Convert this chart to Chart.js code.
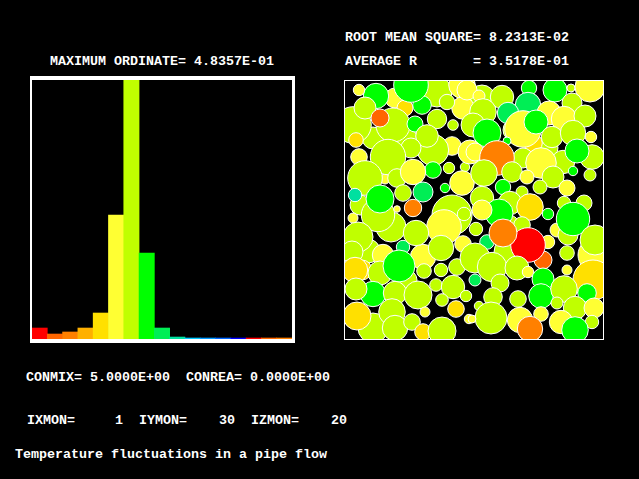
<!DOCTYPE html>
<html><head><meta charset="utf-8">
<script src="https://cdn.jsdelivr.net/npm/chart.js@4"></script>
<style>
html,body{margin:0;padding:0;background:#000;width:639px;height:479px;overflow:hidden}
.t{position:absolute;color:#fff;font:bold 13.33px/16px "Liberation Mono",monospace;white-space:pre;letter-spacing:0}
.box{position:absolute;box-sizing:content-box;border-style:solid;border-color:#fff}
canvas{display:block}
</style></head><body>
<div class="box" style="left:30px;top:76px;width:260px;height:259px;border-width:4px 3px 4px 2px"><canvas id="hist" width="260" height="259"></canvas></div>
<div class="box" style="left:344px;top:80px;width:258px;height:258px;border-width:1px"><canvas id="cells" width="258" height="258"></canvas></div>
<script>
const captions = [
 ["MAXIMUM ORDINATE= 4.8357E-01", 50, 54],
 ["ROOT MEAN SQUARE= 8.2313E-02", 345, 30],
 ["AVERAGE R       = 3.5178E-01", 345, 54],
 ["CONMIX= 5.0000E+00  CONREA= 0.0000E+00", 26, 370],
 ["IXMON=     1  IYMON=    30  IZMON=    20", 27, 413],
 ["Temperature fluctuations in a pipe flow", 15, 447]
];
const binLabels = ["1","2","3","4","5","6","7","8","9","10","11","12","13","14","15","16","17"];
const binValues = [0.0205,0.0093,0.0131,0.0205,0.0485,0.2315,0.48357,0.1606,0.0205,0.0037,0.0019,0.0019,0.0019,0.0019,0.0019,0.0019,0.0019];
const binColors = ["#ff0000","#ff6600","#ff8000","#ffb000","#ffe000","#ffff33","#c0ff00","#00ff00","#00ee55","#00e0a0","#00c8ff","#0099ff","#0066ff","#0000ff","#ff0000","#ff6600","#ff8000"];
const palette = {Y:"#ffff33",L:"#c0ff00",G:"#00ff00",S:"#00ee55",T:"#00e0a0",O:"#ff8000",D:"#ff6600",R:"#ff0000",K:"#ffe000"};
const cellX = [
 29,41,16,126,24,138,170,62,205,165,
 51,61,93,78,67,32,15,118,119,103,
 9,21,49,36,71,93,109,108,89,83,
 12,67,44,15,21,53,89,69,105,121,
 118,11,9,47,34,36,59,79,101,108,
 100,53,14,69,120,79,59,72,97,119,
 8,39,18,11,36,63,55,80,97,113,
 29,12,51,74,92,109,122,98,112,81,
 125,29,48,51,13,68,79,98,
 123,135,158,139,185,211,227,246,228,184,
 164,205,220,241,189,179,192,129,163,143,
 208,229,247,126,131,179,153,248,219,233,
 197,140,168,183,209,229,246,196,159,223,
 178,166,138,220,240,155,186,138,213,224,
 229,204,178,132,204,143,199,166,184,159,
 251,251,223,131,148,173,184,223,249,199,
 197,220,243,156,149,174,213,135,231,250,
 147,176,197,217,248,231,186,128,131];
const cellY = [
 58,99,125,28,171,18,50,60,68,145,
 18,28,12,25,5,16,10,5,28,22,
 45,28,45,38,44,39,45,66,70,56,
 60,68,77,77,98,98,90,92,88,87,
 103,115,138,147,135,119,113,112,108,135,
 147,129,157,128,134,177,167,153,168,164,
 172,175,190,190,193,200,186,191,190,187,
 214,209,213,215,205,207,216,220,229,232,
 239,248,232,248,236,242,252,251,
 10,16,17,32,8,10,8,7,23,25,
 33,33,39,36,63,49,42,45,61,53,
 57,53,57,72,72,78,78,77,82,71,
 83,93,92,97,97,91,95,107,107,108,
 112,123,118,123,123,133,127,130,150,155,
 139,134,145,149,162,162,180,172,165,153,
 175,160,173,178,187,188,192,190,200,199,
 216,209,213,203,217,219,223,226,228,228,
 238,240,234,242,242,250,249,239,200];
const cellR = [
 11,5,10,9,12,13,11,12,9,10,
 10,8,15,9.3,17.3,12.7,5.7,13.3,11.3,7.7,
 18.3,11,17,9,8,9.7,5.3,9.3,15.7,11.3,
 7.3,10,17.7,8.3,17.3,9.3,8.3,12.7,5.7,4.7,
 12.3,6.7,5,15,16.7,14,8.3,10,4.7,20,
 17.3,3.3,15,8.7,6.7,12.7,6.7,12.7,12.7,8.3,
 11,10.7,10,12.7,12,10,16,7.3,6.7,8.3,
 12.7,11,11.7,14,6.3,11.7,5.7,6.3,8.3,5,
 4.7,15,13.3,12.7,14,8.3,8.3,14,
 10,6,11.7,13.3,7.7,12,4,15,10,12.7,
 10.7,12,12.7,11,9.3,18.3,12,12,4,14,
 10.7,12.7,5.7,12,9,10,17.3,12.3,11.7,12,
 15.3,13.3,10.3,7,11,4.7,6,7,7.7,8,
 6,11.7,11.7,6.7,8,14,13.3,10,7,10,
 16.7,5.7,8.3,6.7,6.7,7.3,9,16,17.3,14,
 17,15,7.3,15,14.7,12,5.7,5,20,11,
 12.3,13.3,9.3,9,9.3,8.3,6,4.7,11.7,10,
 16,12.7,7.3,11.7,6.7,13.3,12.7,4,6];
const cellTone = [
 "L","Y","L","Y","L","L","L","L","L","L",
 "Y","K","L","G","G","G","Y","Y","Y","L",
 "L","L","L","D","G","L","L","Y","L","L",
 "K","L","L","Y","L","L","G","Y","L","L",
 "Y","T","Y","L","L","G","L","S","G","L",
 "Y","Y","L","O","L","Y","S","L","L","Y",
 "L","Y","K","K","L","L","G","L","L","L",
 "G","L","L","L","L","L","L","L","K","Y",
 "Y","L","L","L","K","L","K","L",
 "Y","Y","L","L","G","G","L","Y","L","S",
 "S","Y","Y","L","K","Y","G","L","G","G",
 "L","L","Y","Y","Y","L","O","L","L","G",
 "Y","L","L","Y","L","G","L","L","G","Y",
 "L","L","L","L","L","G","K","Y","Y","L",
 "G","G","L","L","Y","S","D","L","R","O",
 "Y","L","L","L","L","L","Y","Y","K","G",
 "G","L","G","L","L","L","L","L","L","Y",
 "L","Y","Y","Y","L","G","O","Y","S"];

for (const [s, x, y] of captions) {
  const d = document.createElement("div");
  d.className = "t"; d.textContent = s;
  d.style.left = x + "px"; d.style.top = y + "px";
  document.body.appendChild(d);
}
/* the bubbles are clipped by the frame, so no room is reserved for their radii */
Chart.registry.getController("bubble").prototype.getMaxOverflow = function(){ return 0; };
const base = {animation:false,responsive:false,events:[],layout:{padding:0},plugins:{legend:{display:false},tooltip:{enabled:false}}};
new Chart(document.getElementById("hist"),{
  type:"bar",
  data:{labels:binLabels,datasets:[{data:binValues,backgroundColor:binColors,borderWidth:0,barPercentage:1,categoryPercentage:1}]},
  options:{...base,scales:{x:{display:false},y:{display:false,min:0,max:0.48357}}}
});
new Chart(document.getElementById("cells"),{
  type:"bubble",
  data:{datasets:[{
    data:cellX.map((x,i)=>({x,y:cellY[i],r:cellR[i]})),
    backgroundColor:cellTone.map(k=>palette[k]),
    borderColor:"#ffffff",borderWidth:1,clip:0
  }]},
  options:{...base,scales:{x:{display:false,min:1,max:259},y:{display:false,min:1,max:259,reverse:true}}}
});
</script>
</body></html>
